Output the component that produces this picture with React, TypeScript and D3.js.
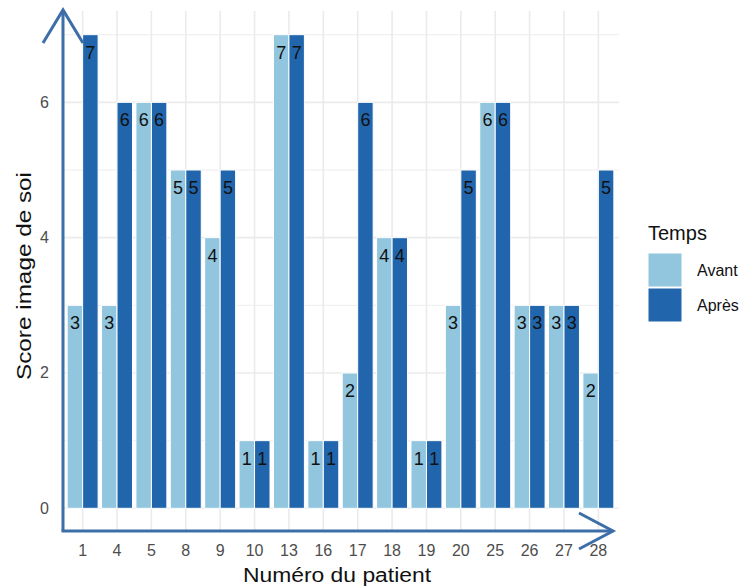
import React from "react";
import * as d3 from "d3";

const patients = ["1", "4", "5", "8", "9", "10", "13", "16", "17", "18", "19", "20", "25", "26", "27", "28"];
const avant = [3, 3, 6, 5, 4, 1, 7, 1, 2, 4, 1, 3, 6, 3, 3, 2];
const apres = [7, 6, 6, 5, 5, 1, 7, 1, 6, 4, 1, 5, 6, 3, 3, 5];
const groups = ["Avant", "Après"];
const colors = ["#92C5DE", "#2166AC"];
const yMajor = [0, 2, 4, 6];
const yMinor = [1, 3, 5, 7];

const W = 747, H = 587;
const panel = { left: 62, right: 619, top: 11, bottom: 532 };
const FONT = "'Liberation Sans', Arial, Helvetica, sans-serif";
const ARROW = "#3C6EA8";

export default function App() {
  const n = patients.length;
  const step = (panel.right - panel.left) / (n - 1 + 1.2);
  const x = d3.scalePoint<string>().domain(patients).range([panel.left + 0.6 * step, panel.right - 0.6 * step]);
  const y = d3.scaleLinear().domain([-0.35, 7.35]).range([panel.bottom, panel.top]);
  const barW = step * 0.45;
  const series = [avant, apres];

  return (
    <svg width={W} height={H} style={{ position: "absolute", left: 0, top: 0, background: "#fff" }} fontFamily={FONT}>
      {/* grid */}
      {yMinor.map((v) => (
        <line key={"mi" + v} x1={panel.left} x2={panel.right} y1={y(v)} y2={y(v)} stroke="#EBEBEB" strokeWidth={0.9} />
      ))}
      {yMajor.map((v) => (
        <line key={"ma" + v} x1={panel.left} x2={panel.right} y1={y(v)} y2={y(v)} stroke="#EBEBEB" strokeWidth={1.6} />
      ))}
      {patients.map((p) => (
        <line key={"vx" + p} x1={x(p)!} x2={x(p)!} y1={panel.top} y2={panel.bottom} stroke="#EBEBEB" strokeWidth={1.6} />
      ))}
      {/* bars */}
      {series.map((vals, gi) =>
        vals.map((v, i) => {
          const cx = x(patients[i])! + (gi === 0 ? -barW / 2 : barW / 2);
          return (
            <rect
              key={gi + "-" + i}
              x={cx - barW / 2}
              y={y(v)}
              width={barW}
              height={y(0) - y(v)}
              fill={colors[gi]}
              stroke="#fff"
              strokeWidth={1}
            />
          );
        })
      )}
      {/* labels */}
      {series.map((vals, gi) =>
        vals.map((v, i) => {
          const cx = x(patients[i])! + (gi === 0 ? -barW / 2 : barW / 2);
          return (
            <text
              key={"t" + gi + "-" + i}
              x={cx}
              y={y(v) + 18}
              textAnchor="middle"
              dominantBaseline="central"
              fontSize={18}
              fill="#111"
            >
              {v}
            </text>
          );
        })
      )}
      {/* axes arrows */}
      <g stroke={ARROW} strokeWidth={3} fill="none" strokeLinecap="butt" strokeLinejoin="miter">
        <path d={`M${panel.left + 1},${panel.bottom - 1} L${panel.left + 1},${10}`} />
        <path d={`M${panel.left + 1 - 20},${43} L${panel.left + 1},${10} L${panel.left + 1 + 20},${43}`} />
        <path d={`M${panel.left - 0.5},${panel.bottom - 1} L${613},${panel.bottom - 1}`} />
        <path d={`M${579},${panel.bottom - 19} L${613},${panel.bottom - 1} L${579},${panel.bottom + 17}`} />
      </g>
      {/* y ticks */}
      {yMajor.map((v) => (
        <text key={"yl" + v} x={49} y={y(v)} textAnchor="end" dominantBaseline="central" fontSize={16} fill="#4D4D4D">
          {v}
        </text>
      ))}
      {/* x ticks */}
      {patients.map((p) => (
        <text key={"xl" + p} x={x(p)!} y={550} textAnchor="middle" dominantBaseline="central" fontSize={16} fill="#4D4D4D">
          {p}
        </text>
      ))}
      {/* titles */}
      <text
        x={337}
        y={575}
        textAnchor="middle"
        dominantBaseline="central"
        fontSize={19.5}
        fill="#111"
        textLength={188}
        lengthAdjust="spacingAndGlyphs"
      >
        Numéro du patient
      </text>
      <text
        transform={`translate(24,276) rotate(-90)`}
        textAnchor="middle"
        dominantBaseline="central"
        fontSize={19.5}
        fill="#111"
        textLength={208}
        lengthAdjust="spacingAndGlyphs"
      >
        Score image de soi
      </text>
      {/* legend */}
      <text x={648} y={240} fontSize={20} fill="#111">
        Temps
      </text>
      {groups.map((g, i) => (
        <g key={g}>
          <rect x={648} y={253 + i * 35} width={34} height={34} fill={colors[i]} stroke="#fff" strokeWidth={1} />
          <text x={697} y={270 + i * 35} dominantBaseline="central" fontSize={16} fill="#111">
            {g}
          </text>
        </g>
      ))}
    </svg>
  );
}
